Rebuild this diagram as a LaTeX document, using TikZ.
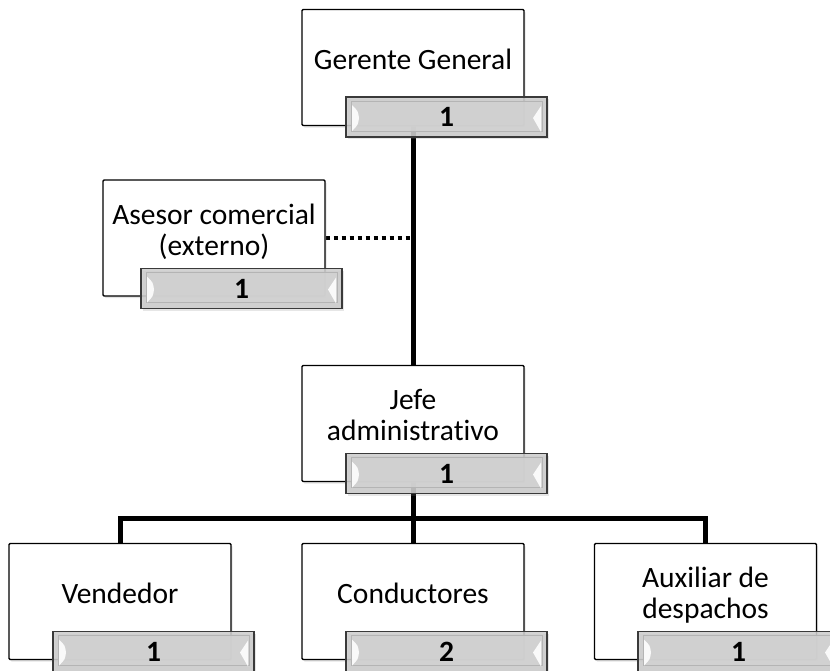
\documentclass[tikz,border=0pt]{standalone}
\usepackage{fontspec}
\setmainfont[Ligatures=NoCommon]{Carlito}
\usetikzlibrary{shadows}

\definecolor{barline}{HTML}{3A3A3A}
\definecolor{barfill}{HTML}{CDCDCD}
\definecolor{barinner}{HTML}{D1D1D1}
\definecolor{baredge}{HTML}{B4B4B4}

\pgfdeclarelayer{lines}
\pgfsetlayers{lines,main}

\tikzset{
  unitbox/.style={draw=black, line width=1.4pt, fill=white, rounded corners=1.2pt,
    minimum width=222pt, minimum height=116pt, inner sep=0pt,
    drop shadow={opacity=0.22, shadow xshift=1.5pt, shadow yshift=-2pt}},
  boxtext/.style={font=\fontsize{29.5}{31}\selectfont, align=center, inner sep=0pt},
  countbar/.style={draw=barline, line width=1.1pt, fill=barfill, fill opacity=0.88,
    minimum width=201pt, minimum height=40pt, inner sep=0pt, text opacity=1,
    font=\bfseries\fontsize{29.5}{31}\selectfont,
    drop shadow={opacity=0.2, shadow xshift=1.5pt, shadow yshift=-2pt},
    path picture={
      \coordinate (nw) at (path picture bounding box.north west);
      \coordinate (se) at (path picture bounding box.south east);
      % light frame and inner panel
      \fill[white!88!gray] (path picture bounding box.south west) rectangle (se);
      \fill[barinner, draw=baredge, line width=0.6pt]
        ([xshift=5pt,yshift=-4pt]nw) rectangle ([xshift=-5pt,yshift=6pt]se);
      % bevel highlights at both ends
      \fill[white] ([xshift=6pt,yshift=-8pt]nw) .. controls ([xshift=12pt,yshift=-14pt]nw) ..
        ([xshift=13pt,yshift=-21pt]nw) .. controls ([xshift=12pt,yshift=-28pt]nw) ..
        ([xshift=6pt,yshift=-34pt]nw) -- cycle;
      \fill[white] ([xshift=-6pt,yshift=31pt]se) -- ([xshift=-14pt,yshift=19pt]se)
        -- ([xshift=-6pt,yshift=5pt]se) -- cycle;
    }},
  orgline/.style={line width=5pt},
  dotline/.style={line width=4pt, dash pattern=on 4pt off 4pt}
}

\begin{document}
\begin{tikzpicture}[x=1pt, y=-1pt]
  \useasboundingbox (0,0) rectangle (830,670);

  % unit boxes
  \node[unitbox] (gerente) at (413,67.5) {};
  \node[unitbox] (asesor) at (214,238) {};
  \node[unitbox] (jefe) at (413,423.5) {};
  \node[unitbox] (vendedor) at (120,601.5) {};
  \node[unitbox] (conductores) at (413,601.5) {};
  \node[unitbox] (auxiliar) at (705.5,601.5) {};

  % titles
  \node[boxtext, anchor=base] (gerente-t) at (413,69) {Gerente General};
  \node[boxtext, anchor=base] (asesor-t) at (214,255) {Asesor comercial\\(externo)};
  \node[boxtext, anchor=base] (jefe-t) at (413,440) {Jefe\\administrativo};
  \node[boxtext, anchor=base] (vendedor-t) at (120,603) {Vendedor};
  \node[boxtext, anchor=base] (conductores-t) at (413,603) {Conductores};
  \node[boxtext, anchor=base] (auxiliar-t) at (705.5,618) {Auxiliar de\\despachos};

  % headcount bars
  \node[countbar] (gerente-n) at (446.5,117) {1};
  \node[countbar] (asesor-n) at (241.5,288.5) {1};
  \node[countbar] (jefe-n) at (446.5,473.5) {1};
  \node[countbar] (vendedor-n) at (153.5,651.5) {1};
  \node[countbar] (conductores-n) at (446.5,651.5) {2};
  \node[countbar] (auxiliar-n) at (738.5,651.5) {1};

  % reporting lines, kept beneath the boxes
  \begin{pgfonlayer}{lines}
    \coordinate (bus) at (413,518);
    \draw[orgline] (gerente.south) -- (jefe.north);
    \draw[orgline] (jefe.south) -- (bus);
    \draw[orgline, line join=miter] (vendedor.north) |- (bus) -| (auxiliar.north);
    \draw[orgline] (bus) -- (conductores.north);
    \draw[dotline] (asesor.east) -- (asesor.east -| gerente.south);
  \end{pgfonlayer}
\end{tikzpicture}
\end{document}
